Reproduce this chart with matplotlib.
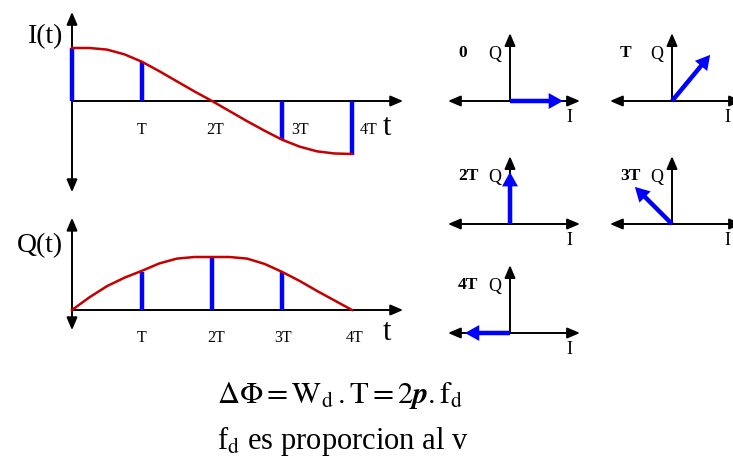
"""Current/charge waveforms with the matching I-Q phasor snapshots."""

import matplotlib

matplotlib.use("Agg")
import matplotlib.pyplot as plt
from matplotlib.patches import FancyArrowPatch

W, H = 733, 459

plt.rcParams["font.family"] = ["Liberation Serif", "DejaVu Serif"]
plt.rcParams["mathtext.fontset"] = "stix"

RED = "#c40000"
BLUE = "#0000ff"

# time axis in units of T
t_curve = [0, 0.25, 0.5, 0.75, 1, 1.25, 1.5, 1.75, 2, 2.25, 2.5, 2.75, 3, 3.25, 3.5, 3.75, 4]
i_curve = [1.0, 1.0, 0.97, 0.88, 0.74, 0.56, 0.37, 0.18, 0.0, -0.19, -0.38, -0.56,
           -0.73, -0.86, -0.95, -0.99, -1.0]
q_curve = [0.0, 0.24, 0.45, 0.61, 0.74, 0.88, 0.97, 1.0, 1.0, 1.0, 0.97, 0.87,
           0.72, 0.55, 0.36, 0.18, 0.0]

tick_labels = ["T", "2T", "3T", "4T"]

# sample instants drawn as blue bars
i_bar_t = [0, 1, 3, 4]
i_bar_val = [1.0, 0.74, -0.74, -1.02]
q_bar_t = [1, 2, 3]
q_bar_val = [0.72, 1.0, 0.72]

# phasor snapshots (I, Q components)
phasor_labels = ["0", "T", "2T", "3T", "4T"]
phasor_i = [1.0, 0.72, 0.0, -0.70, -0.85]
phasor_q = [0.0, 0.87, 0.98, 0.70, 0.0]


def px_axes(fig, left, top, right, bottom, ox, oy, sx, sy):
    """Axes over a pixel box; data origin at pixel (ox, oy), sx/sy px per unit."""
    ax = fig.add_axes([left / W, 1 - bottom / H, (right - left) / W, (bottom - top) / H])
    ax.set_xlim((left - ox) / sx, (right - ox) / sx)
    ax.set_ylim((oy - bottom) / sy, (oy - top) / sy)
    ax.axis("off")
    return ax


def axis_arrow(ax, p0, p1, style="-|>"):
    ax.add_patch(FancyArrowPatch(
        p0, p1, arrowstyle=f"{style},head_length=0.75,head_width=0.32",
        mutation_scale=10, lw=1.4, color="black", shrinkA=0, shrinkB=0, zorder=2))


fig = plt.figure(figsize=(W / 100, H / 100), dpi=100)

# ---- I(t) ----
ax = px_axes(fig, 0, 0, 420, 205, 72, 101, 70, 53)
axis_arrow(ax, (0, -1.72), (0, 1.68), "<|-|>")
axis_arrow(ax, (0, 0), (4.73, 0))
ax.vlines(i_bar_t, 0, i_bar_val, color=BLUE, lw=3.2, zorder=3)
ax.plot(t_curve, i_curve, color=RED, lw=1.8, zorder=4)
for x, lab in zip([1.0, 2.04, 3.26, 4.24], tick_labels):
    ax.text(x, -0.55, lab, ha="center", va="center", fontsize=11.5)
ax.text(4.5, -0.5, "t", ha="center", va="center", fontsize=22)
ax.text(-0.13, 1.22, "I(t)", ha="right", va="center", fontsize=20)

# ---- Q(t) ----
ax = px_axes(fig, 0, 205, 420, 360, 72, 310, 70, 53)
axis_arrow(ax, (0, -0.38), (0, 1.74), "<|-|>")
axis_arrow(ax, (0, 0), (4.73, 0))
ax.vlines(q_bar_t, 0, q_bar_val, color=BLUE, lw=3.2, zorder=3)
ax.plot(t_curve, q_curve, color=RED, lw=1.8, zorder=4)
for x, lab in zip([1.0, 2.06, 3.02, 4.04], tick_labels):
    ax.text(x, -0.53, lab, ha="center", va="center", fontsize=11.5)
ax.text(4.5, -0.42, "t", ha="center", va="center", fontsize=22)
ax.text(-0.13, 1.22, "Q(t)", ha="right", va="center", fontsize=20)

# ---- phasor snapshots ----
centers = [(510, 101), (672, 101), (510, 224), (672, 224), (510, 333)]
for (cx, cy), lab, pi, pq in zip(centers, phasor_labels, phasor_i, phasor_q):
    ax = px_axes(fig, cx - 70, cy - 80, cx + 80, cy + 30, cx, cy, 53, 53)
    axis_arrow(ax, (-1.17, 0), (1.32, 0), "<|-|>")
    axis_arrow(ax, (0, 0), (0, 1.28))
    ax.arrow(0, 0, pi, pq, width=0.085, head_width=0.3, head_length=0.27,
             length_includes_head=True, color=BLUE, lw=0, zorder=3)
    ax.text(-0.98, 0.9, lab, ha="left", va="center", fontsize=12.5, fontweight="bold")
    ax.text(-0.28, 0.88, "Q", ha="center", va="center", fontsize=13)
    # keep the right-column labels inside the canvas
    ax.text(1.12 if cx < 600 else 1.04, -0.32, "I", ha="center", va="center", fontsize=13)

# ---- relations below ----
fig.text(217 / W, 1 - 403 / H,
         r"$\Delta\Phi = \mathrm{W}_{\mathrm{d}}\,.\mathrm{T} = 2\mathbfit{p}.\mathrm{f}_{\mathrm{d}}$",
         ha="left", va="baseline", fontsize=22)
fig.text(217 / W, 1 - 449 / H, r"f$_{\mathrm{d}}$ es proporcion al v",
         ha="left", va="baseline", fontsize=22)

fig.savefig("out.png", dpi=100)
